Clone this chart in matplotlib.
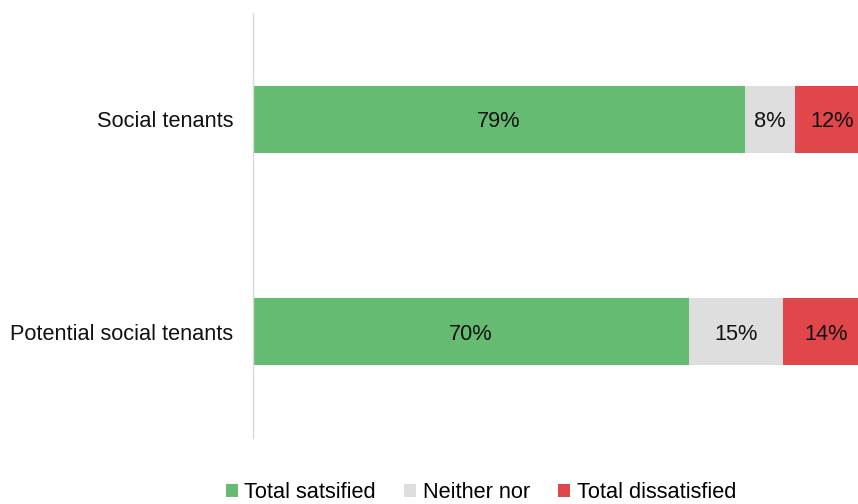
import matplotlib
matplotlib.use("Agg")
import matplotlib.pyplot as plt
from matplotlib.patches import Patch

plt.rcParams['font.family'] = ['Liberation Sans', 'DejaVu Sans']

categories = ["Social tenants", "Potential social tenants"]
series_names = ["Total satsified", "Neither nor", "Total dissatisfied"]
satisfied = [79, 70]
neither = [8, 15]
dissatisfied = [12, 14]
colors = ["#66BB72", "#DEDEDE", "#E0464A"]

fig = plt.figure(figsize=(8.58, 5.04), dpi=100)
ax = fig.add_axes([253 / 858, 66 / 504, 623 / 858, 425 / 504])

ypos = list(range(len(categories)))
left = [0] * len(categories)
for vals, col in zip([satisfied, neither, dissatisfied], colors):
    ax.barh(ypos, vals, left=left, height=0.315, color=col, edgecolor="none")
    for y, l, v in zip(ypos, left, vals):
        ax.text(l + v / 2, y, f"{v}%", ha="center", va="center_baseline",
                fontsize=15.7, color="#111111")
    left = [a + b for a, b in zip(left, vals)]

ax.set_xlim(0, 100)
ax.set_ylim(len(categories) - 0.5, -0.5)
ax.set_yticks(ypos)
ax.set_yticklabels(categories, fontsize=15.7, color="#111111")
ax.tick_params(axis="y", length=0, pad=14)
ax.set_xticks([])
for side in ["top", "right", "bottom"]:
    ax.spines[side].set_visible(False)
ax.spines["left"].set_color("#D9D9D9")
ax.spines["left"].set_linewidth(1)

handles = [Patch(facecolor=c, edgecolor="none", label=n) for c, n in zip(colors, series_names)]
fig.legend(handles=handles, loc="center", bbox_to_anchor=(481 / 858, 1 - 493 / 504),
           ncol=3, frameon=False, fontsize=15.7, handlelength=0.55, handleheight=0.55,
           handletextpad=0.3, columnspacing=1.3)

fig.savefig("out.png", dpi=100)
